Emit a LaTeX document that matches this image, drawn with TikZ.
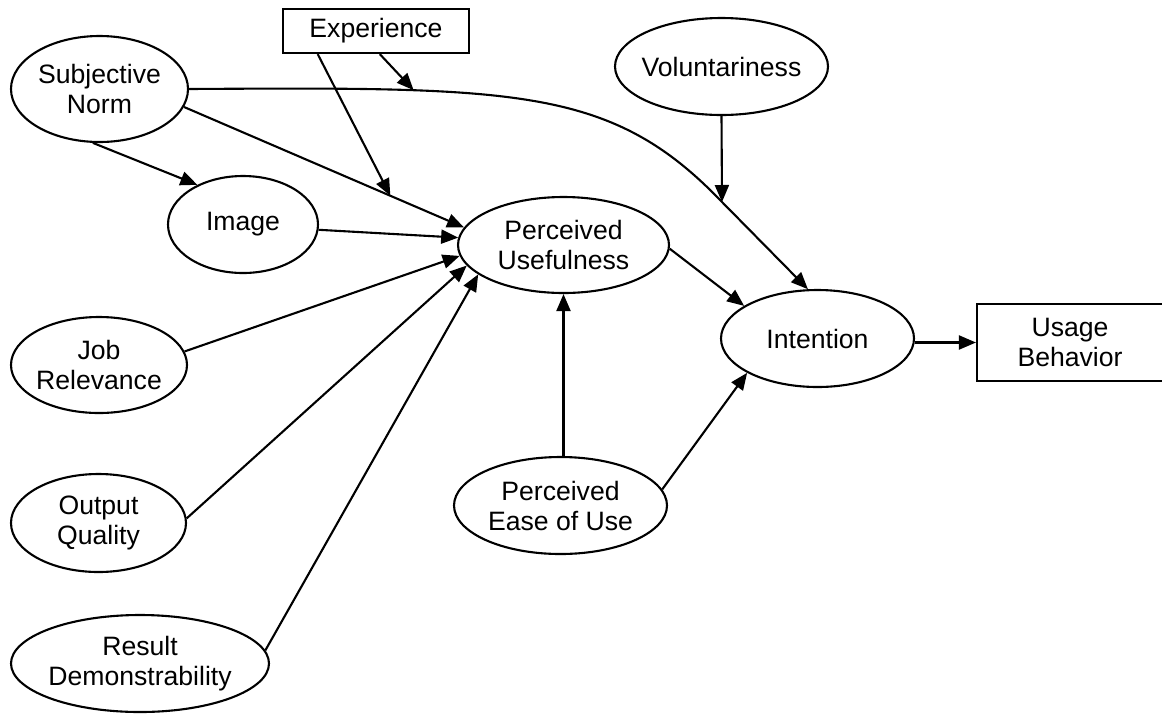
\documentclass[tikz,border=0pt]{standalone}
\usepackage{fontspec}
\setmainfont{Liberation Sans}
\usetikzlibrary{shapes.geometric,arrows.meta,calc}

\tikzset{
  txt/.style={align=center, font=\fontsize{26.6}{30}\selectfont},
  ov/.style={ellipse, draw, line width=2.1pt, inner xsep=-12pt, inner ysep=-5pt, txt},
  bx/.style={rectangle, draw, line width=2.1pt, inner sep=0pt, txt},
  arr/.style={line width=2.1pt, -{Triangle[length=17pt,width=14pt]}},
}

\begin{document}
\begin{tikzpicture}[x=1pt,y=-1pt]
  \useasboundingbox (0,0) rectangle (1162,713);

  % constructs
  \node[ov, minimum width=177pt, minimum height=106pt] (sn)   at (99.5,89)    {Subjective\\Norm};
  \node[ov, minimum width=150pt, minimum height=97pt]  (img)  at (243,224.5)  {Image};
  \node[ov, minimum width=176pt, minimum height=96pt]  (jr)   at (99,365)     {Job\\Relevance};
  \node[ov, minimum width=175pt, minimum height=98pt]  (oq)   at (98.5,523)   {Output\\Quality};
  \node[ov, minimum width=258pt, minimum height=97pt]  (rd)   at (140,663.5)  {Result\\Demonstrability};
  \node[ov, minimum width=211pt, minimum height=96pt]  (pu)   at (563.5,245)  {Perceived\\Usefulness};
  \node[ov, minimum width=213pt, minimum height=97pt]  (peou) at (560.5,505.5){Perceived\\Ease of Use};
  \node[ov, minimum width=213pt, minimum height=97pt]  (vol)  at (721.5,66.5) {Voluntariness};
  \node[ov, minimum width=193pt, minimum height=97pt]  (int)  at (817.5,338.5){Intention};
  \node[bx, minimum width=186pt, minimum height=44pt]  (exp)  at (376,31)     {Experience};
  \node[bx, minimum width=186pt, minimum height=77pt]  (ub)   at (1070,342.5) {Usage\\Behavior};

  % moderation point of voluntariness on the norm-intention path
  \coordinate (volc) at (722,202);

  % subjective norm -> intention (curved)
  \draw[arr] (sn.east) .. controls (518,87) and (612,87) .. coordinate[pos=0.277] (expc) (volc) -- (int.101);

  % direct effects
  \draw[arr] (sn.263) -- (img.139);
  \draw[arr] (sn.348) -- (pu.170);
  \draw[arr] (img.356.6) -- (pu.176.2);
  \draw[arr] (jr.9.4) -- (pu.186.6);
  \draw[arr] (oq.3.9) -- (pu.192.8);
  \draw[arr] (rd.6.1) -- (pu.199.1);
  \draw[arr] (pu.358.4) -- (int.156.5);
  \draw[arr] (pu.south |- peou.north) -- (pu.south);
  \draw[arr] (peou.9.2) -- (int.206.1);
  \draw[arr] (int.east |- ub.west) -- (ub.west);

  % moderators
  \draw[arr] (vol.south) -- (volc);
  \draw[arr] ($(exp.south west)!0.52!(exp.south east)$) -- (expc);
  \draw[arr] ($(exp.south west)!0.19!(exp.south east)$) -- ($(sn.348)!0.737!(pu.170)$);
\end{tikzpicture}
\end{document}
